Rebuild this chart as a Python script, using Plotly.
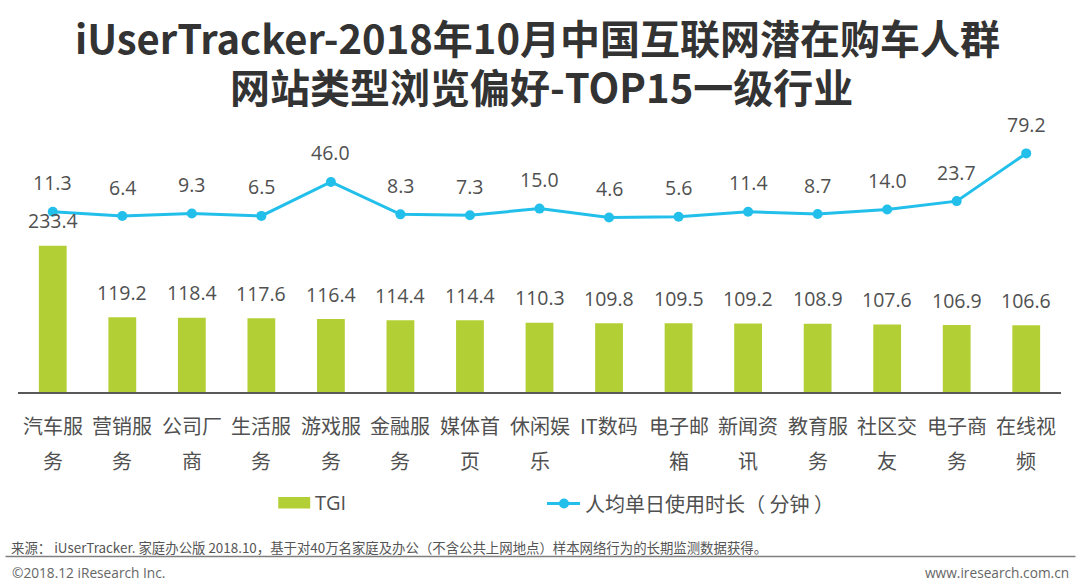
import plotly.graph_objects as go

# ---- data ----
categories = ["汽车服务", "营销服务", "公司厂商", "生活服务", "游戏服务", "金融服务", "媒体首页",
              "休闲娱乐", "IT数码", "电子邮箱", "新闻资讯", "教育服务", "社区交友", "电子商务", "在线视频"]
tick_line1 = ["汽车服", "营销服", "公司厂", "生活服", "游戏服", "金融服", "媒体首",
              "休闲娱", "IT数码", "电子邮", "新闻资", "教育服", "社区交", "电子商", "在线视"]
tick_line2 = ["务", "务", "商", "务", "务", "务", "页", "乐", "", "箱", "讯", "务", "友", "务", "频"]
tgi = [233.4, 119.2, 118.4, 117.6, 116.4, 114.4, 114.4, 110.3, 109.8, 109.5, 109.2, 108.9, 107.6, 106.9, 106.6]
minutes = [11.3, 6.4, 9.3, 6.5, 46.0, 8.3, 7.3, 15.0, 4.6, 5.6, 11.4, 8.7, 14.0, 23.7, 79.2]

title_line1 = "iUserTracker-2018年10月中国互联网潜在购车人群"
title_line2 = "网站类型浏览偏好-TOP15一级行业"
legend_bar = "TGI"
legend_line = "人均单日使用时长（ 分钟 ）"
source_text = "来源： iUserTracker. 家庭办公版 2018.10，基于对40万名家庭及办公（不含公共上网地点）样本网络行为的长期监测数据获得。"
copyright_text = "©2018.12 iResearch Inc."
site_text = "www.iresearch.com.cn"

# ---- style ----
W, H = 1080, 587
GREEN = "#B3CF36"
BLUE = "#22BFEA"
TXT = "#505050"
FONT = "Open Sans, Noto Sans CJK SC, sans-serif"
CJK = "Noto Sans CJK SC, sans-serif"

L, R, T, B = 17.5, 18.5, 130, 195.3
PW, PH = W - L - R, H - T - B


def px(x, y):
    return (x - L) / PW, (H - B - y) / PH


fig = go.Figure()
fig.add_trace(go.Bar(x=categories, y=tgi, marker=dict(color=GREEN, line=dict(width=0)),
                     width=0.4, yaxis="y", showlegend=False, hoverinfo="x+y"))
fig.add_trace(go.Scatter(x=categories, y=minutes, mode="lines+markers", yaxis="y2",
                         line=dict(color=BLUE, width=3), marker=dict(size=10, color=BLUE),
                         showlegend=False))

ann = []
for c, v in zip(categories, tgi):
    ann.append(dict(x=c, y=v, xref="x", yref="y", text=f"{v:.1f}", showarrow=False,
                    yanchor="middle", yshift=25, font=dict(size=19.5, color=TXT, family=FONT)))
for c, v in zip(categories, minutes):
    ann.append(dict(x=c, y=v, xref="x", yref="y2", text=f"{v:.1f}", showarrow=False,
                    yanchor="middle", yshift=29, font=dict(size=19.5, color=TXT, family=FONT)))
for c, t1, t2 in zip(categories, tick_line1, tick_line2):
    ann.append(dict(x=c, y=px(0, 425)[1], xref="x", yref="paper", text=t1, showarrow=False,
                    yanchor="middle", font=dict(size=20, color=TXT, family=CJK)))
    if t2:
        ann.append(dict(x=c, y=px(0, 460)[1], xref="x", yref="paper", text=t2, showarrow=False,
                        yanchor="middle", font=dict(size=20, color=TXT, family=CJK)))

# titles
ann.append(dict(x=px(537, 0)[0], y=px(0, 37)[1], xref="paper", yref="paper", text="<b>" + title_line1 + "</b>",
                showarrow=False, xanchor="center", yanchor="middle",
                font=dict(size=40, color="#333333", family=CJK)))
ann.append(dict(x=px(542, 0)[0], y=px(0, 86)[1], xref="paper", yref="paper", text="<b>" + title_line2 + "</b>",
                showarrow=False, xanchor="center", yanchor="middle",
                font=dict(size=40, color="#333333", family=CJK)))

# legend
ann.append(dict(x=px(313, 0)[0], y=px(0, 502)[1], xref="paper", yref="paper", text=legend_bar,
                showarrow=False, xanchor="left", yanchor="middle", font=dict(size=20, color=TXT, family=FONT)))
ann.append(dict(x=px(583, 0)[0], y=px(0, 503)[1], xref="paper", yref="paper", text=legend_line,
                showarrow=False, xanchor="left", yanchor="middle", font=dict(size=20, color=TXT, family=CJK)))

# footer
ann.append(dict(x=px(8, 0)[0], y=px(0, 547)[1], xref="paper", yref="paper", text=source_text,
                showarrow=False, xanchor="left", yanchor="middle", font=dict(size=13.4, color="#555555", family=CJK)))
ann.append(dict(x=px(9, 0)[0], y=px(0, 572)[1], xref="paper", yref="paper", text=copyright_text,
                showarrow=False, xanchor="left", yanchor="middle", font=dict(size=13.7, color="#666666", family=FONT)))
ann.append(dict(x=px(1072, 0)[0], y=px(0, 572)[1], xref="paper", yref="paper", text=site_text,
                showarrow=False, xanchor="right", yanchor="middle", font=dict(size=13.7, color="#666666", family=FONT)))

shapes = []
x0, y0 = px(278, 496.5)
x1, y1 = px(310, 508)
shapes.append(dict(type="rect", xref="paper", yref="paper", x0=x0, y0=y0, x1=x1, y1=y1,
                   fillcolor=GREEN, line=dict(width=0)))
lx0, ly = px(547, 503)
lx1, _ = px(580, 503)
shapes.append(dict(type="line", xref="paper", yref="paper", x0=lx0, y0=ly, x1=lx1, y1=ly,
                   line=dict(color=BLUE, width=3)))
r = 5
shapes.append(dict(type="circle", xref="paper", yref="paper", x0=px(564 - r, 0)[0], x1=px(564 + r, 0)[0],
                   y0=px(0, 503 + r)[1], y1=px(0, 503 - r)[1], fillcolor=BLUE, line=dict(width=0)))
# separator line
sx0, sy = px(5, 556)
sx1, _ = px(1076, 556)
shapes.append(dict(type="line", xref="paper", yref="paper", x0=sx0, y0=sy, x1=sx1, y1=sy,
                   line=dict(color="#7f7f7f", width=1.5)))

fig.update_layout(
    width=W, height=H,
    margin=dict(l=L, r=R, t=T, b=B, pad=0),
    paper_bgcolor="white", plot_bgcolor="white",
    annotations=ann, shapes=shapes,
    xaxis=dict(type="category", range=[-0.5, 14.5], showticklabels=False, ticks="",
               showline=True, linecolor="#595959", linewidth=1.5, showgrid=False, zeroline=False),
    yaxis=dict(range=[0, PH / 0.626], visible=False, showgrid=False, zeroline=False),
    yaxis2=dict(range=[-(391.7 - 221.4) / 0.859, (221.4 - T) / 0.859], overlaying="y", visible=False,
                showgrid=False, zeroline=False),
    showlegend=False,
)

fig.write_html("out.html", config={"displayModeBar": False},
               post_script="document.body.style.margin='0';document.body.style.overflow='hidden';")
